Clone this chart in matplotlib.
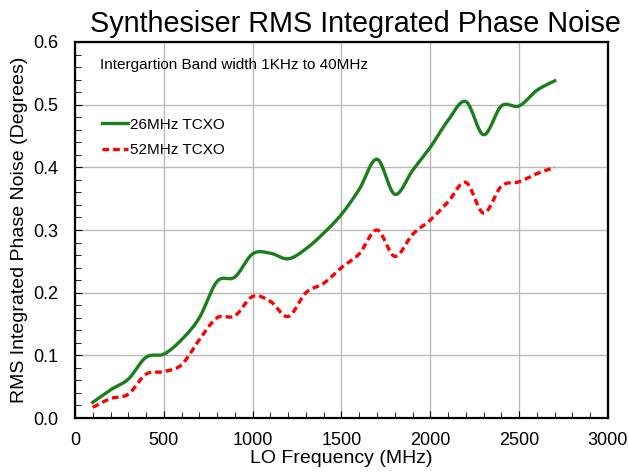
import numpy as np
import matplotlib
matplotlib.use("Agg")
import matplotlib.pyplot as plt
from matplotlib.ticker import MultipleLocator

plt.rcParams['font.family'] = ['Liberation Sans', 'DejaVu Sans']

# LO frequency points (MHz)
freq = [100, 200, 300, 400, 500, 600, 700, 800, 900, 1000, 1100, 1200, 1300, 1400,
        1500, 1600, 1700, 1800, 1900, 2000, 2100, 2200, 2300, 2400, 2500, 2600, 2700]

# RMS integrated phase noise (degrees)
tcxo_26 = [0.025, 0.045, 0.062, 0.097, 0.102, 0.125, 0.160, 0.218, 0.225, 0.262,
           0.263, 0.254, 0.270, 0.295, 0.325, 0.365, 0.413, 0.357, 0.395, 0.432,
           0.475, 0.505, 0.452, 0.498, 0.498, 0.523, 0.538]
tcxo_52 = [0.017, 0.031, 0.038, 0.070, 0.074, 0.085, 0.125, 0.160, 0.163, 0.194,
           0.186, 0.162, 0.200, 0.215, 0.240, 0.262, 0.300, 0.258, 0.293, 0.316,
           0.345, 0.376, 0.327, 0.370, 0.377, 0.390, 0.400]


def smooth(x, y, n=20):
    """Catmull-Rom curve through the points, like a spreadsheet smoothed line"""
    x = np.asarray(x, float)
    y = np.asarray(y, float)
    px = np.concatenate([[2 * x[0] - x[1]], x, [2 * x[-1] - x[-2]]])
    py = np.concatenate([[2 * y[0] - y[1]], y, [2 * y[-1] - y[-2]]])
    xs, ys = [], []
    t = np.linspace(0, 1, n, endpoint=False)
    for i in range(1, len(px) - 2):
        for p, out in ((px, xs), (py, ys)):
            p0, p1, p2, p3 = p[i - 1], p[i], p[i + 1], p[i + 2]
            out.extend(0.5 * (2 * p1 + (-p0 + p2) * t
                              + (2 * p0 - 5 * p1 + 4 * p2 - p3) * t ** 2
                              + (-p0 + 3 * p1 - 3 * p2 + p3) * t ** 3))
    xs.append(x[-1])
    ys.append(y[-1])
    return xs, ys


fig = plt.figure(figsize=(6.29, 4.74), dpi=100)
ax = fig.add_axes([0.1192, 0.1181, 0.8474, 0.7933])

sx, sy = smooth(freq, tcxo_26)
ax.plot(sx, sy, color="#1a7f1a", lw=2.4, label="26MHz TCXO")
sx, sy = smooth(freq, tcxo_52)
ax.plot(sx, sy, color="#ff0000", lw=2.4, ls=(0, (2.0, 1.2)), label="52MHz TCXO")

ax.set_xlim(0, 3000)
ax.set_ylim(0, 0.6)
ax.xaxis.set_major_locator(MultipleLocator(500))
ax.xaxis.set_minor_locator(MultipleLocator(100))
ax.yaxis.set_major_locator(MultipleLocator(0.1))
ax.yaxis.set_minor_locator(MultipleLocator(0.02))
ax.yaxis.set_major_formatter(matplotlib.ticker.FormatStrFormatter("%.1f"))
ax.tick_params(which="both", direction="in", top=False, right=False, labelsize=13)
ax.tick_params(axis="x", which="major", length=5, pad=10)
ax.tick_params(axis="y", which="major", length=5, pad=12)
ax.tick_params(which="minor", length=4)
ax.grid(True, which="major", color="#b8b8b8", lw=1)
for s in ax.spines.values():
    s.set_linewidth(1.6)
    s.set_color("black")

ax.set_title("Synthesiser RMS Integrated Phase Noise", fontsize=20.7, pad=7, x=0.527)
ax.set_xlabel("LO Frequency (MHz)", fontsize=14, labelpad=1)
ax.set_ylabel("RMS Integrated Phase Noise (Degrees)", fontsize=14, labelpad=4)

ax.text(0.047, 0.94, "Intergartion Band width 1KHz to 40MHz", transform=ax.transAxes,
        fontsize=11, va="center", ha="left")
ax.legend(loc="upper left", bbox_to_anchor=(0.025, 0.835), frameon=False, fontsize=11,
          handlelength=1.7, handletextpad=0.1, labelspacing=0.75)

fig.savefig("out.png", dpi=100)
plt.close()
